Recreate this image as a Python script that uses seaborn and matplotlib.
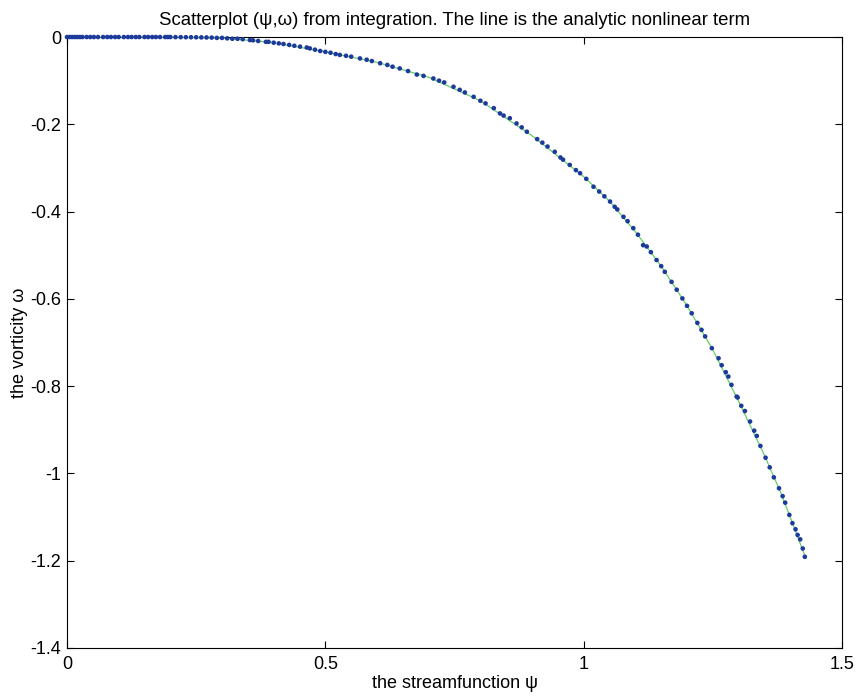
import numpy as np
import pandas as pd
import matplotlib
matplotlib.use("Agg")
import matplotlib.pyplot as plt
from matplotlib.ticker import FormatStrFormatter
import seaborn as sns

# scatter points (psi, omega)
psi_pts = [0.0, 0.01, 0.02, 0.03, 0.045, 0.06, 0.07, 0.085, 0.10, 0.11, 0.125,
           0.14, 0.15, 0.165, 0.18, 0.19, 0.20, 0.22, 0.25, 0.27, 0.29, 0.32,
           0.354, 0.385, 0.419, 0.451, 0.464, 0.490, 0.528, 0.567, 0.606,
           0.644, 0.677, 0.709, 0.748, 0.787, 0.826, 0.838, 0.857, 0.890,
           0.944, 0.973, 0.993, 1.019, 1.051, 1.077, 1.096, 1.115, 1.122,
           1.141, 1.157, 1.170, 1.191, 1.209, 1.228, 1.248, 1.261, 1.267,
           1.280, 1.286, 1.296, 1.298, 1.312, 1.322, 1.335, 1.342, 1.352,
           1.368, 1.378, 1.390, 1.398, 1.404, 1.414, 1.419, 1.424, 1.428,
           0.005, 0.015, 0.025, 0.038, 0.052, 0.078, 0.093, 0.118, 0.133,
           0.157, 0.172, 0.195,
           0.21, 0.23, 0.24, 0.26, 0.28, 0.30, 0.31, 0.33, 0.34, 0.36, 0.37,
           0.39, 0.40, 0.41, 0.43, 0.44, 0.47, 0.48, 0.50, 0.51, 0.52, 0.54,
           0.55, 0.58, 0.59, 0.62, 0.63, 0.66, 0.69, 0.72, 0.73, 0.76, 0.77,
           0.80, 0.81, 0.845, 0.87, 0.88, 0.91, 0.92, 0.93, 0.955, 0.96,
           0.985, 1.005, 1.03, 1.04, 1.06, 1.065, 1.085, 1.105, 1.13, 1.15,
           1.18, 1.20, 1.22, 1.235, 1.275, 1.305, 1.33, 1.36, 1.385, 1.41]
omega_pts = [0.0, 0.0, 0.0, 0.0, 0.0, 0.0, 0.0, 0.0, 0.0, 0.0, 0.0,
             0.0, 0.0, 0.0, 0.0, 0.0, 0.0, -0.0003, -0.0006, -0.001, -0.002,
             -0.004, -0.007, -0.011, -0.016, -0.022, -0.024, -0.032, -0.041,
             -0.049, -0.060, -0.072, -0.086, -0.095, -0.114, -0.137, -0.163,
             -0.175, -0.186, -0.217, -0.263, -0.293, -0.312, -0.343, -0.377,
             -0.412, -0.438, -0.477, -0.480, -0.511, -0.538, -0.561, -0.599,
             -0.633, -0.671, -0.713, -0.736, -0.752, -0.778, -0.797, -0.824,
             -0.826, -0.857, -0.881, -0.914, -0.937, -0.964, -1.009, -1.034,
             -1.067, -1.095, -1.114, -1.141, -1.151, -1.172, -1.191,
             0.0, 0.0, 0.0, 0.0, 0.0, 0.0, 0.0, 0.0, 0.0,
             0.0, 0.0, 0.0,
             -0.0002, -0.0004, -0.0005, -0.0008, -0.0013, -0.002, -0.003,
             -0.004, -0.005, -0.0075, -0.009, -0.011, -0.013, -0.0145, -0.018,
             -0.020, -0.026, -0.029, -0.034, -0.036, -0.039, -0.043, -0.045,
             -0.052, -0.055, -0.064, -0.068, -0.078, -0.089, -0.100, -0.104,
             -0.121, -0.127, -0.146, -0.152, -0.180, -0.198, -0.207, -0.234,
             -0.242, -0.251, -0.276, -0.281, -0.305, -0.325, -0.354, -0.365,
             -0.389, -0.395, -0.422, -0.453, -0.493, -0.525, -0.579, -0.616,
             -0.655, -0.686, -0.768, -0.845, -0.902, -0.986, -1.052, -1.128]

# analytic nonlinear term (green line)
psi_line = [0.0, 0.2, 0.3, 0.4, 0.5, 0.6, 0.7, 0.8, 0.9, 1.0, 1.05, 1.1,
            1.15, 1.2, 1.25, 1.3, 1.35, 1.38, 1.4, 1.43]
omega_line = [0.0, -0.0003, -0.002, -0.013, -0.034, -0.058, -0.092, -0.146,
              -0.226, -0.320, -0.376, -0.446, -0.525, -0.616, -0.717, -0.835,
              -0.959, -1.04, -1.101, -1.195]

pts = pd.DataFrame({"psi": psi_pts, "omega": omega_pts})
line = pd.DataFrame({"psi": psi_line, "omega": omega_line})

sns.set_style("ticks")
plt.rcParams['font.family'] = ['Liberation Sans', 'DejaVu Sans']
plt.rcParams['xtick.direction'] = 'in'
plt.rcParams['ytick.direction'] = 'in'
plt.rcParams['text.color'] = 'black'
plt.rcParams['axes.labelcolor'] = 'black'
plt.rcParams['xtick.labelcolor'] = 'black'
plt.rcParams['ytick.labelcolor'] = 'black'

fig = plt.figure(figsize=(8.58, 7.0), dpi=100)
ax = fig.add_axes([0.0781, 0.0743, 0.9033, 0.8728])

sns.scatterplot(data=pts, x="psi", y="omega", ax=ax, s=11, marker="o",
                color="#1c3a9c", edgecolor="none", zorder=4, clip_on=False)
sns.lineplot(data=line, x="psi", y="omega", ax=ax, sort=False, estimator=None,
             color="#66d066", linewidth=0.9, zorder=3)

ax.set_xlim(0, 1.5)
ax.set_ylim(-1.4, 0)
ax.set_xticks([0, 0.5, 1, 1.5])
ax.set_yticks([-1.4, -1.2, -1.0, -0.8, -0.6, -0.4, -0.2, 0])
ax.xaxis.set_major_formatter(FormatStrFormatter('%g'))
ax.yaxis.set_major_formatter(FormatStrFormatter('%g'))
ax.tick_params(top=True, right=True, length=5, width=0.8, labelsize=13,
               color='black')
ax.tick_params(axis='x', pad=6)
ax.tick_params(axis='y', pad=4)
for s in ax.spines.values():
    s.set_linewidth(0.8)
    s.set_color('black')

ax.set_xlabel("the streamfunction \u03c8", fontsize=13, labelpad=1)
ax.set_ylabel("the vorticity \u03c9", fontsize=13, labelpad=2)
ax.set_title("Scatterplot (\u03c8,\u03c9) from integration. The line is the analytic nonlinear term",
             fontsize=13.4, pad=9)

fig.savefig("out.png", dpi=100)
